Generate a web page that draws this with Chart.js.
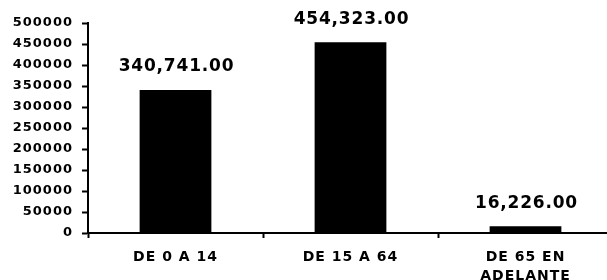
<!DOCTYPE html>
<html>
<head>
<meta charset="utf-8">
<script src="https://cdn.jsdelivr.net/npm/chart.js@4"></script>
<style>
  html, body { margin: 0; padding: 0; background: #fff; overflow: hidden; }
</style>
</head>
<body>
<canvas id="poblacion" width="613" height="280"></canvas>
<script>
// grupos de edad
const categorias = ['DE 0 A 14', 'DE 15 A 64', ['DE 65 EN', 'ADELANTE']]
const poblacion = [340741, 454323, 16226]
const yMax = 500000
const yStep = 50000

// texto un poco espaciado como en el original
const spacing = {
  id: 'spacing',
  beforeUpdate(chart) { chart.ctx.letterSpacing = '1px' },
  beforeDraw(chart) { chart.ctx.letterSpacing = '1px' },
}

// etiquetas encima de las barras
const valueLabels = {
  id: 'valueLabels',
  afterDatasetsDraw(chart) {
    const ctx = chart.ctx
    const meta = chart.getDatasetMeta(0)
    ctx.save()
    ctx.letterSpacing = '0.8px'
    ctx.font = 'bold 17px "DejaVu Sans"'
    ctx.fillStyle = '#000'
    ctx.textAlign = 'center'
    ctx.textBaseline = 'middle'
    meta.data.forEach((bar, i) => {
      const txt = poblacion[i].toLocaleString('en-US', { minimumFractionDigits: 2, maximumFractionDigits: 2 })
      ctx.fillText(txt, bar.x + 1, bar.y - 23)
    })
    ctx.restore()
  },
}

const ctx = document.getElementById('poblacion').getContext('2d')
new Chart(ctx, {
  type: 'bar',
  data: {
    labels: categorias,
    datasets: [
      {
        data: poblacion,
        backgroundColor: '#000',
        borderWidth: 0,
        barPercentage: 0.41,
        categoryPercentage: 1,
      },
    ],
  },
  plugins: [spacing, valueLabels],
  options: {
    responsive: false,
    animation: false,
    layout: { padding: { top: 23, left: 0, right: 0, bottom: 0 } },
    plugins: {
      legend: { display: false },
      tooltip: { enabled: false },
    },
    scales: {
      x: {
        offset: true,
        border: { color: '#000', width: 2 },
        grid: {
          offset: true,
          drawOnChartArea: false,
          drawTicks: true,
          tickLength: 5,
          tickColor: '#000',
          tickWidth: 2,
        },
        ticks: {
          color: '#000',
          padding: 10,
          maxRotation: 0,
          autoSkip: false,
          font: { family: 'DejaVu Sans', size: 14, weight: 'bold', lineHeight: 19 / 14 },
        },
        afterFit(scale) { scale.height = 47 },
      },
      y: {
        min: 0,
        max: yMax,
        border: { color: '#000', width: 2 },
        grid: {
          drawOnChartArea: false,
          drawTicks: true,
          tickLength: 6,
          tickColor: '#000',
          tickWidth: 2,
        },
        ticks: {
          stepSize: yStep,
          color: '#000',
          padding: 9,
          font: { family: 'DejaVu Sans', size: 13, weight: 'bold' },
          callback: v => String(v),
        },
        afterFit(scale) { scale.width = 88 },
      },
    },
  },
})
</script>
</body>
</html>
